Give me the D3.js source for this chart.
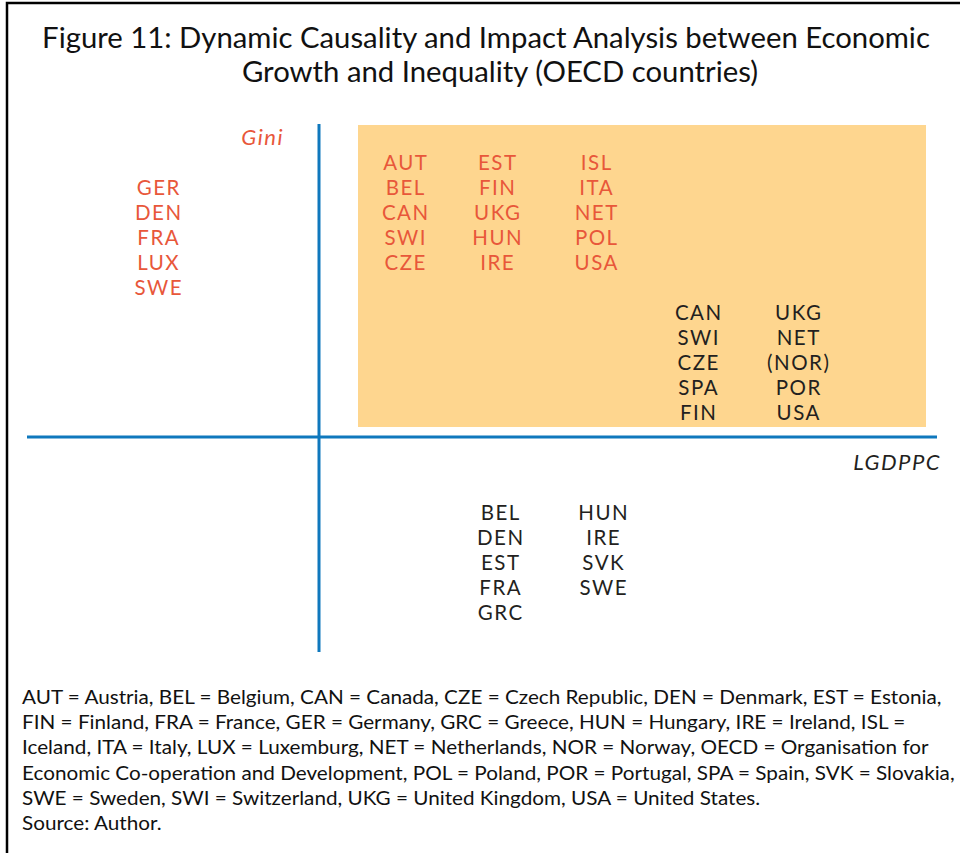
<!DOCTYPE html>
<html>
<head>
<meta charset="utf-8">
<script src="https://cdn.jsdelivr.net/npm/d3@7"></script>
<style>
  body { margin: 0; background: #fff; }
  svg { display: block; font-family: Lato, "Open Sans", sans-serif; }
</style>
</head>
<body>
<div class="d3"></div>
<script>
// country groups, one array per column of the diagram
var giniLeft   = ["GER", "DEN", "FRA", "LUX", "SWE"];
var bothCol1   = ["AUT", "BEL", "CAN", "SWI", "CZE"];
var bothCol2   = ["EST", "FIN", "UKG", "HUN", "IRE"];
var bothCol3   = ["ISL", "ITA", "NET", "POL", "USA"];
var gdpCol1    = ["CAN", "SWI", "CZE", "SPA", "FIN"];
var gdpCol2    = ["UKG", "NET", "(NOR)", "POR", "USA"];
var lowerCol1  = ["BEL", "DEN", "EST", "FRA", "GRC"];
var lowerCol2  = ["HUN", "IRE", "SVK", "SWE"];

var titleLines = [
  "Figure 11: Dynamic Causality and Impact Analysis between Economic",
  "Growth and Inequality (OECD countries)"
];
var noteLines = [
  "AUT = Austria, BEL = Belgium, CAN = Canada, CZE = Czech Republic, DEN = Denmark, EST = Estonia,",
  "FIN = Finland, FRA = France, GER = Germany, GRC = Greece, HUN = Hungary, IRE = Ireland, ISL =",
  "Iceland, ITA = Italy, LUX = Luxemburg, NET = Netherlands, NOR = Norway, OECD = Organisation for",
  "Economic Co-operation and Development, POL = Poland, POR = Portugal, SPA = Spain, SVK = Slovakia,",
  "SWE = Sweden, SWI = Switzerland, UKG = United Kingdom, USA = United States.",
  "Source: Author."
];

var red = "#e8573a", dark = "#231f20", blue = "#0f78bd";

// where each column sits in diagram units (x: 100px steps, y: label rows)
var columns = [
  {names: giniLeft,  col: -1.61, row: 10, color: red},
  {names: bothCol1,  col: 0.86,  row: 11, color: red},
  {names: bothCol2,  col: 1.78,  row: 11, color: red},
  {names: bothCol3,  col: 2.77,  row: 11, color: red},
  {names: gdpCol1,   col: 3.79,  row: 5,  color: dark},
  {names: gdpCol2,   col: 4.79,  row: 5,  color: dark},
  {names: lowerCol1, col: 1.81,  row: -3, color: dark},
  {names: lowerCol2, col: 2.84,  row: -3, color: dark}
];

var width = 960, height = 853;

var x = d3.scaleLinear().domain([0, 1]).range([319, 419]);
var y = d3.scaleLinear().domain([0, 1]).range([437, 412]);

var svg = d3.select(".d3").append("svg")
    .attr("width", width)
    .attr("height", height);

// frame (top and left edges)
svg.append("path")
    .attr("d", "M7,853V3H960")
    .attr("fill", "none")
    .attr("stroke", "#000")
    .attr("stroke-width", 2.5);

// title
var title = svg.selectAll(".title")
    .data(titleLines)
  .enter().append("text")
    .attr("class", "title")
    .attr("text-anchor", "middle")
    .attr("font-size", 28)
    .attr("fill", "#111")
    .text(function(d) { return d; });
var tw = title.nodes()[0].getComputedTextLength();
var tsx = 888 / tw;
title.attr("transform", function(d, i) {
  var cx = i === 0 ? 486 : 500;
  return "translate(" + cx + "," + (i === 0 ? 48 : 82) + ") scale(" + tsx + ",1)";
});

// shaded quadrant
svg.append("rect")
    .attr("x", x(0.39))
    .attr("y", y(12.48))
    .attr("width", x(6.07) - x(0.39))
    .attr("height", y(0.4) - y(12.48))
    .attr("fill", "#fed68f");

// axes
svg.append("line")
    .attr("x1", x(0)).attr("x2", x(0))
    .attr("y1", y(12.52)).attr("y2", y(-8.6))
    .attr("stroke", blue).attr("stroke-width", 3);
svg.append("line")
    .attr("x1", x(-2.92)).attr("x2", x(6.18))
    .attr("y1", y(0)).attr("y2", y(0))
    .attr("stroke", blue).attr("stroke-width", 3);

svg.append("text")
    .attr("x", x(-0.35))
    .attr("y", y(11.7))
    .attr("text-anchor", "end")
    .attr("font-size", 22)
    .attr("letter-spacing", 1.5)
    .attr("font-style", "italic")
    .attr("fill", red)
    .text("Gini");

svg.append("text")
    .attr("x", x(6.22))
    .attr("y", y(-1.33))
    .attr("text-anchor", "end")
    .attr("font-size", 22)
    .attr("letter-spacing", 1.5)
    .attr("font-style", "italic")
    .attr("fill", dark)
    .text("LGDPPC");

// country labels
var col = svg.selectAll(".col")
    .data(columns)
  .enter().append("g")
    .attr("class", "col")
    .attr("fill", function(d) { return d.color; });

col.selectAll("text")
    .data(function(d) {
      return d.names.map(function(n, i) { return {name: n, col: d.col, row: d.row - i}; });
    })
  .enter().append("text")
    .attr("x", function(d) { return x(d.col) + 0.75; })
    .attr("y", function(d) { return y(d.row) + 7.6; })
    .attr("text-anchor", "middle")
    .attr("font-size", 20.5)
    .attr("letter-spacing", 1.5)
    .text(function(d) { return d.name; });

// notes
var note = svg.selectAll(".note")
    .data(noteLines)
  .enter().append("text")
    .attr("class", "note")
    .attr("font-size", 19)
    .attr("fill", "#111")
    .text(function(d) { return d; });
var nw = note.nodes()[0].getComputedTextLength();
var nsx = 920 / nw;
note.attr("transform", function(d, i) {
  return "translate(22," + (704 + i * 25.2) + ") scale(" + nsx + ",1)";
});
</script>
</body>
</html>
